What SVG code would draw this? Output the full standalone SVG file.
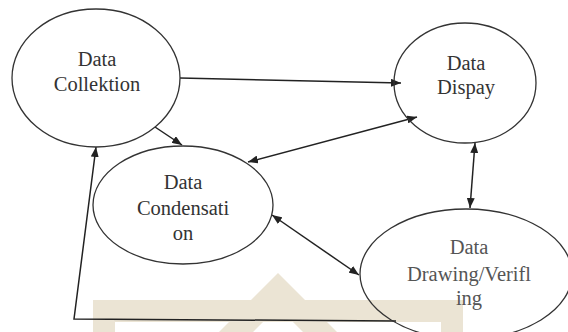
<svg xmlns="http://www.w3.org/2000/svg" width="568" height="332" viewBox="0 0 568 332">
<style>
.node ellipse{fill:none;stroke:#333;stroke-width:1.3}
.node text{font-family:"Liberation Serif",serif;font-size:20.5px;fill:#333;text-anchor:middle}
#n4 text{fill:#555}
.conn path{fill:none;stroke:#222;stroke-width:1.5}
.wm{fill:#ebe4d4}
</style>
<defs>
<marker id="ah" viewBox="0 0 10 8" refX="10" refY="4" markerWidth="10" markerHeight="8" markerUnits="userSpaceOnUse" orient="auto-start-reverse">
<path d="M0,0 L10,4 L0,8 z" fill="#222"/>
</marker>
</defs>
<rect width="568" height="332" fill="#fff"/>
<g id="watermark">
<path class="wm" d="M93,300 H463 V332 H441 V322 H115 V332 H93 Z"/>
<polygon class="wm" points="278,273 337,332 303,332 278,307 253,332 219,332"/>
</g>
<g id="connectors" class="conn">
<path d="M180,78 L401,83" marker-end="url(#ah)"/>
<path d="M155,127 L182,145" marker-end="url(#ah)"/>
<path d="M248,162 L417,117" marker-start="url(#ah)" marker-end="url(#ah)"/>
<path d="M475,143 L470,208" marker-start="url(#ah)" marker-end="url(#ah)"/>
<path d="M272,215 L359,275" marker-start="url(#ah)" marker-end="url(#ah)"/>
<path d="M396,321 L74,319 L96,147" marker-end="url(#ah)"/>
</g>
<g id="n1" class="node">
<ellipse cx="96" cy="78" rx="84" ry="69"/>
<text x="97" y="66">Data</text>
<text x="97" y="91">Collektion</text>
</g>
<g id="n2" class="node">
<ellipse cx="465" cy="83" rx="71" ry="60"/>
<text x="466" y="70">Data</text>
<text x="466" y="94">Dispay</text>
</g>
<g id="n3" class="node">
<ellipse cx="183" cy="205" rx="90" ry="59"/>
<text x="183" y="189">Data</text>
<text x="183" y="215">Condensati</text>
<text x="183" y="240">on</text>
</g>
<g id="n4" class="node">
<ellipse cx="466" cy="274" rx="106" ry="65"/>
<text x="469" y="254">Data</text>
<text x="469" y="281">Drawing/Verifl</text>
<text x="469" y="305">ing</text>
</g>
</svg>
